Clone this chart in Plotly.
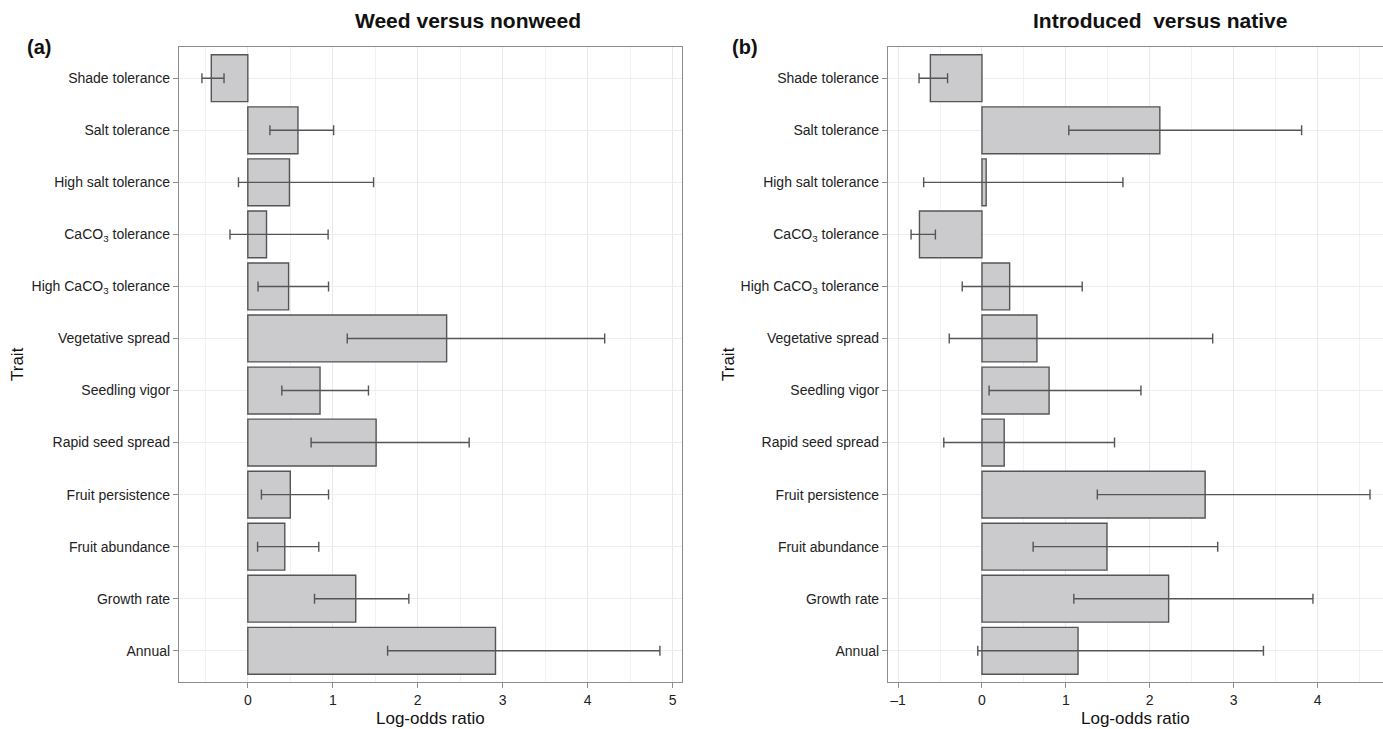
import plotly.graph_objects as go

traits = ["Shade tolerance", "Salt tolerance", "High salt tolerance",
          "CaCO<sub>3</sub> tolerance", "High CaCO<sub>3</sub> tolerance",
          "Vegetative spread", "Seedling vigor", "Rapid seed spread",
          "Fruit persistence", "Fruit abundance", "Growth rate", "Annual"]

# Panel (a): Weed versus nonweed
weed_est = [-0.43, 0.59, 0.49, 0.22, 0.48, 2.34, 0.85, 1.51, 0.50, 0.435, 1.27, 2.915]
weed_lo = [-0.54, 0.26, -0.11, -0.21, 0.12, 1.17, 0.40, 0.745, 0.16, 0.115, 0.785, 1.645]
weed_hi = [-0.28, 1.01, 1.48, 0.945, 0.95, 4.20, 1.42, 2.605, 0.95, 0.835, 1.895, 4.85]

# Panel (b): Introduced versus native
intro_est = [-0.615, 2.12, 0.05, -0.745, 0.33, 0.655, 0.80, 0.265, 2.66, 1.49, 2.225, 1.145]
intro_lo = [-0.75, 1.035, -0.695, -0.845, -0.235, -0.39, 0.085, -0.455, 1.375, 0.61, 1.095, -0.05]
intro_hi = [-0.41, 3.81, 1.68, -0.555, 1.195, 2.75, 1.895, 1.58, 4.625, 2.81, 3.945, 3.355]

FONT = "Liberation Sans, Arial, sans-serif"
BAR_FILL = "#cbcbcd"
DARK = "#555555"

fig = go.Figure()


def add_panel(est, lo, hi, xa, ya):
    plus = [h - e for h, e in zip(hi, est)]
    minus = [e - l for e, l in zip(est, lo)]
    fig.add_trace(go.Bar(
        x=est, y=list(range(len(traits))), orientation="h", width=0.9,
        marker=dict(color=BAR_FILL, line=dict(color=DARK, width=1.4)),
        error_x=dict(type="data", symmetric=False, array=plus, arrayminus=minus,
                     color=DARK, thickness=1.4, width=5),
        xaxis=xa, yaxis=ya, showlegend=False))


add_panel(weed_est, weed_lo, weed_hi, "x", "y")
add_panel(intro_est, intro_lo, intro_hi, "x2", "y2")

ticks_y = list(range(len(traits)))
common_x = dict(showline=True, linecolor="#8c8c8c", linewidth=1.2, mirror=True,
                ticks="outside", ticklen=5, tickcolor="#8c8c8c",
                showgrid=True, gridcolor="#e8e8e8", gridwidth=1,
                minor=dict(showgrid=True, gridcolor="#f2f2f2", dtick=0.5),
                zeroline=False,
                tickfont=dict(family=FONT, size=14, color="#222"))
common_y = dict(showline=True, linecolor="#8c8c8c", linewidth=1.2, mirror=True,
                ticks="outside", ticklen=5, tickcolor="#8c8c8c",
                showgrid=True, gridcolor="#ededed", zeroline=False,
                tickmode="array", tickvals=ticks_y, ticktext=traits,
                range=[11.6, -0.6],
                tickfont=dict(family=FONT, size=14, color="#222"))

fig.update_layout(
    width=1383, height=729,
    margin=dict(l=0, r=0, t=0, b=0),
    paper_bgcolor="white", plot_bgcolor="white",
    xaxis=dict(domain=[179 / 1383, 682 / 1383], range=[-0.81, 5.11],
               tickvals=[0, 1, 2, 3, 4, 5], ticktext=["0", "1", "2", "3", "4", "5"],
               anchor="y", **common_x),
    yaxis=dict(domain=[(729 - 682) / 729, (729 - 47) / 729], anchor="x", **common_y),
    xaxis2=dict(domain=[888 / 1383, 1.0], range=[-1.12, 4.78],
                tickvals=[-1, 0, 1, 2, 3, 4], ticktext=["\u20131", "0", "1", "2", "3", "4"],
                anchor="y2", **common_x),
    yaxis2=dict(domain=[(729 - 682) / 729, (729 - 47) / 729], anchor="x2", **common_y),
)

ann = []
ann.append(dict(text="<b>Weed versus nonweed</b>", x=468, y=729 - 21, font=dict(size=21)))
ann.append(dict(text="<b>Introduced  versus native</b>", x=1160, y=729 - 21, font=dict(size=21)))
ann.append(dict(text="<b>(a)</b>", x=39, y=729 - 47, font=dict(size=20)))
ann.append(dict(text="<b>(b)</b>", x=745, y=729 - 47, font=dict(size=20)))
ann.append(dict(text="Log-odds ratio", x=430, y=729 - 718, font=dict(size=17)))
ann.append(dict(text="Log-odds ratio", x=1135, y=729 - 718, font=dict(size=17)))
ann.append(dict(text="Trait", x=17, y=729 - 364, font=dict(size=17), textangle=-90))
ann.append(dict(text="Trait", x=728, y=729 - 364, font=dict(size=17), textangle=-90))
for a in ann:
    a.update(xref="paper", yref="paper", showarrow=False,
             xanchor="center", yanchor="middle")
    a["x"] = a["x"] / 1383
    a["y"] = a["y"] / 729
    a["font"].update(family=FONT, color="#111")
fig.update_layout(annotations=ann)

fig.write_html("out.html", config={"displayModeBar": False},
               post_script="document.body.style.margin='0';document.body.style.padding='0';")
